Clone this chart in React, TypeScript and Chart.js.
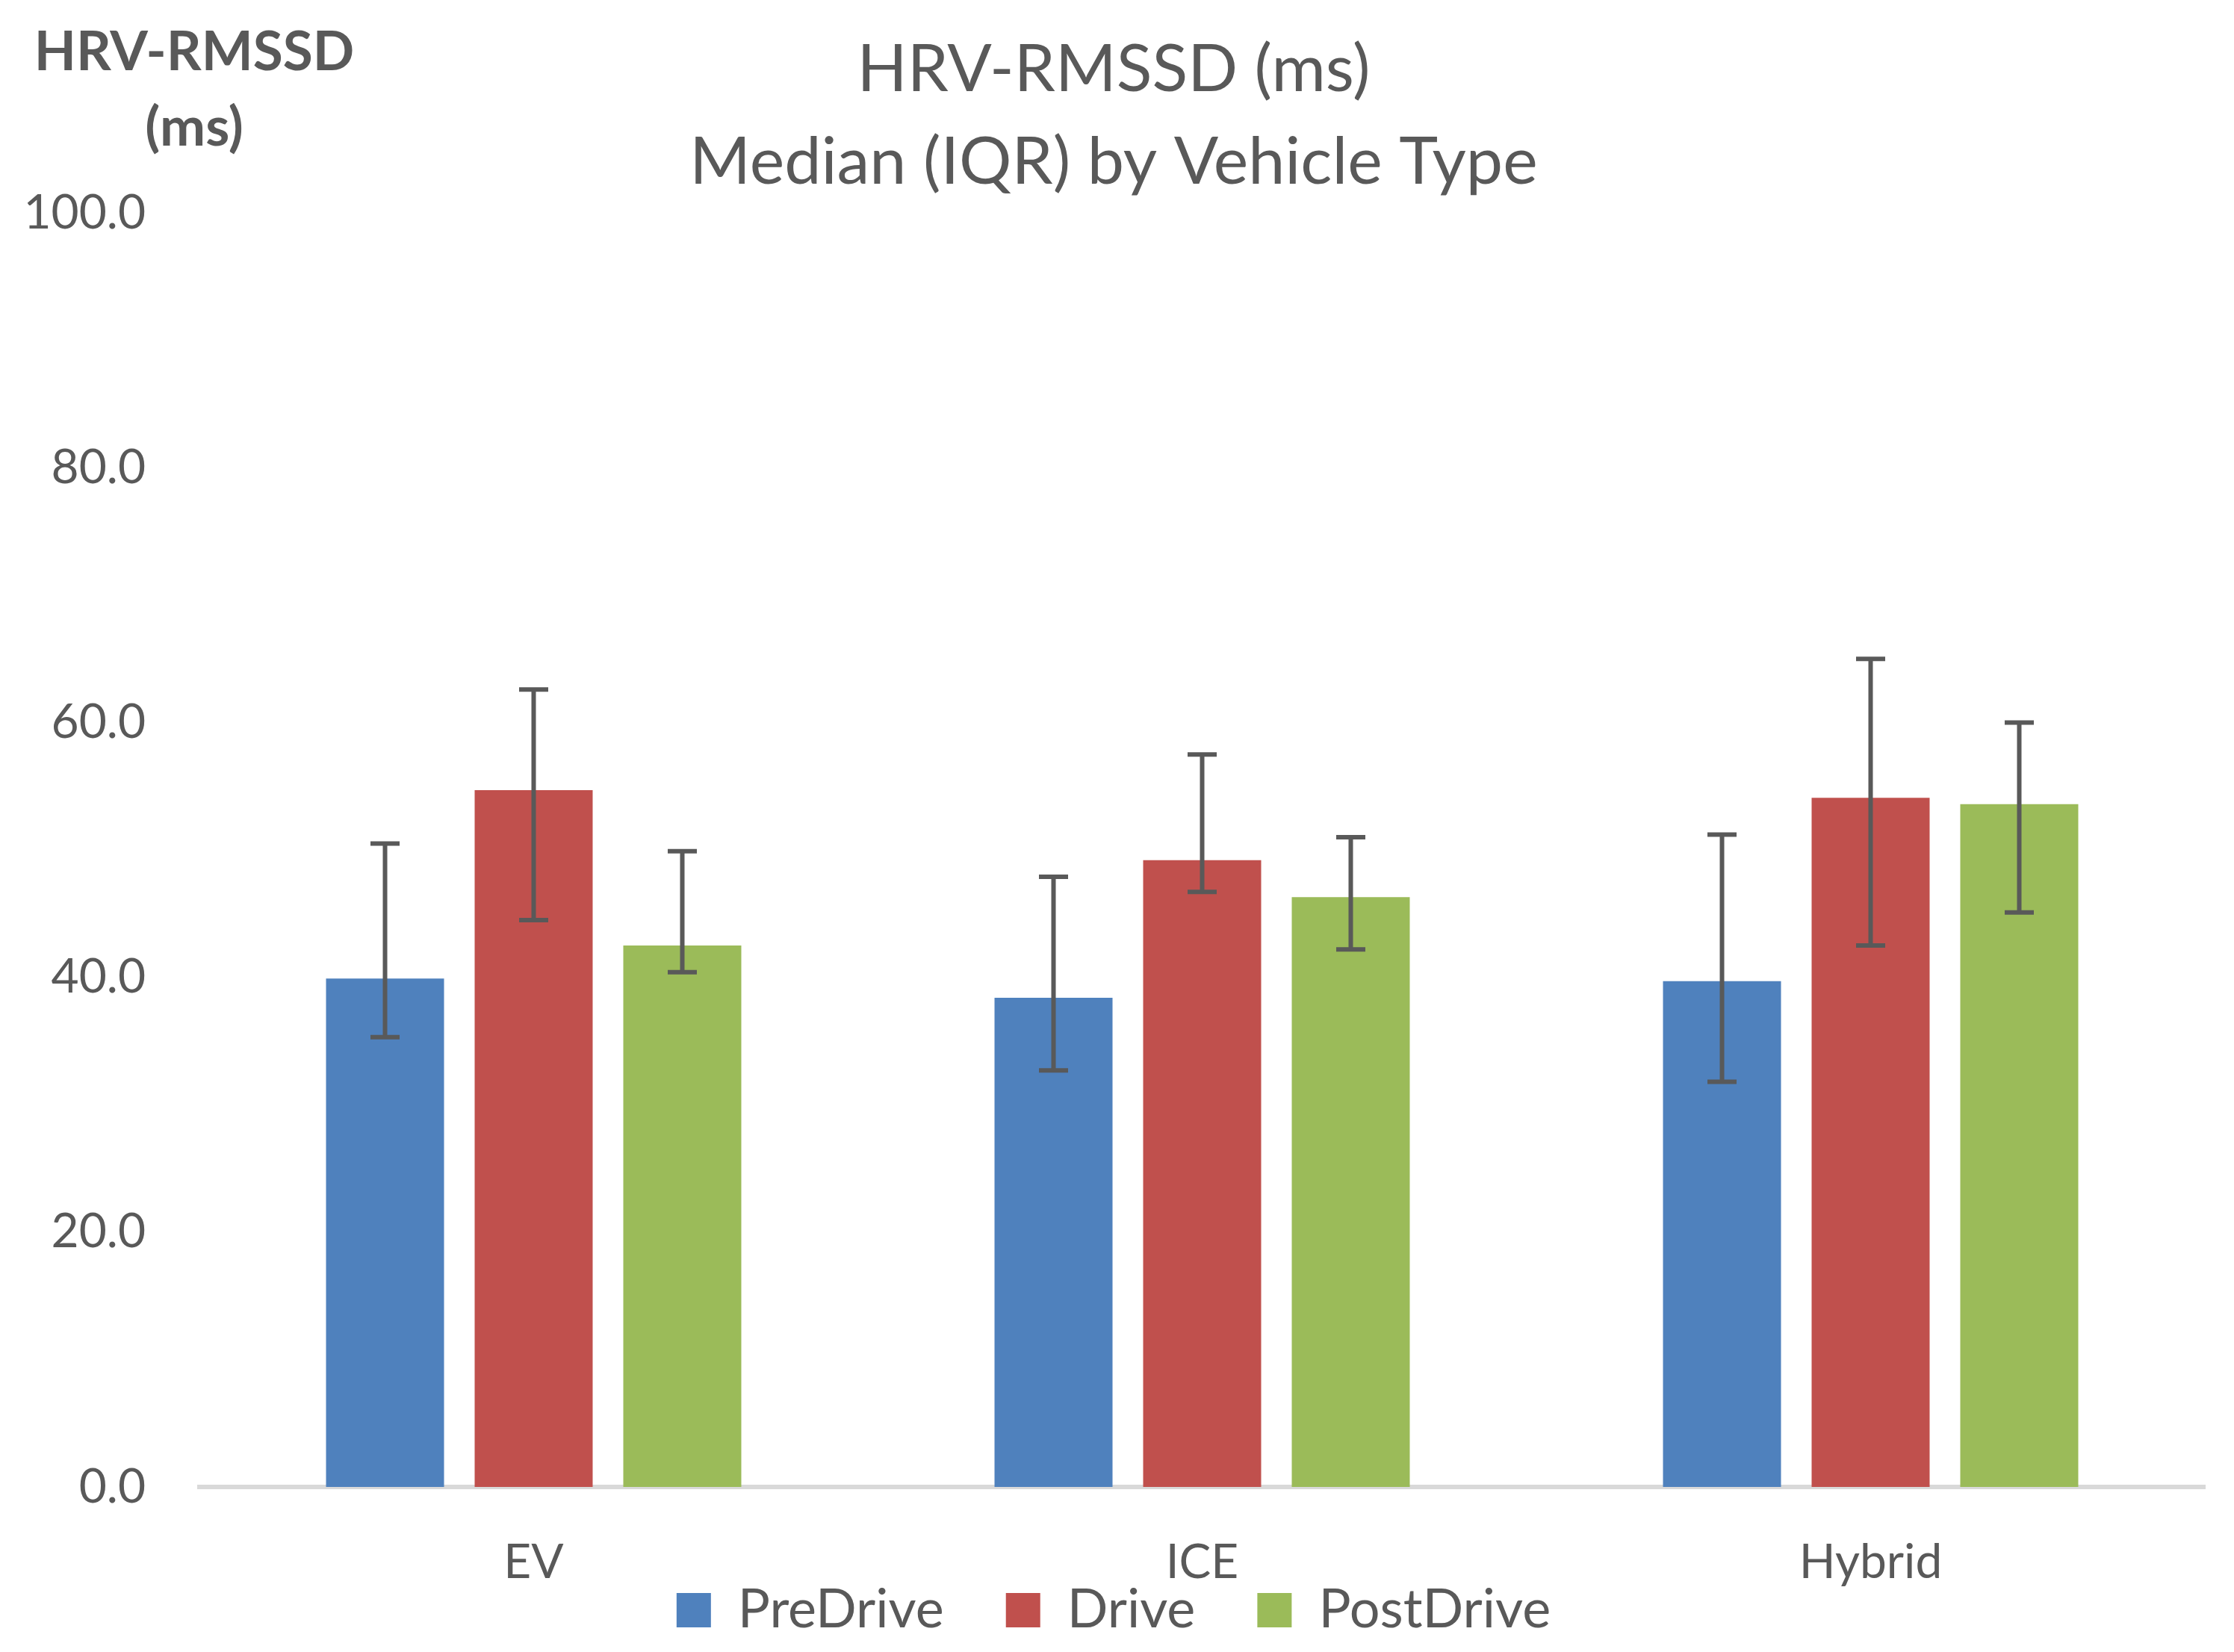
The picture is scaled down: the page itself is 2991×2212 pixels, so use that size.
import React, { useEffect, useRef } from 'react';
import { Chart, registerables } from 'chart.js';

Chart.register(...registerables);

const categories = ['EV', 'ICE', 'Hybrid'];
const seriesNames = ['PreDrive', 'Drive', 'PostDrive'];
const seriesColors = ['#4F81BD', '#C0504D', '#9BBB59'];

const preDrive = [39.9, 38.4, 39.7];
const preDriveQ1 = [35.3, 32.7, 31.8];
const preDriveQ3 = [50.5, 47.9, 51.2];

const drive = [54.7, 49.2, 54.1];
const driveQ1 = [44.5, 46.7, 42.5];
const driveQ3 = [62.6, 57.5, 65.0];

const postDrive = [42.5, 46.3, 53.6];
const postDriveQ1 = [40.4, 42.2, 45.1];
const postDriveQ3 = [49.9, 51.0, 60.0];

const yTicks = [0, 20, 40, 60, 80, 100];
const titleLines = ['HRV-RMSSD (ms)', 'Median (IQR) by Vehicle Type'];
const yTitleLines = ['HRV-RMSSD', '(ms)'];

const TEXT = '#595959';
const FONT = 'Lato';

const errorBarPlugin = {
  id: 'iqrErrorBars',
  afterDatasetsDraw(chart: any) {
    const ctx = chart.ctx;
    const y = chart.scales.y;
    chart.data.datasets.forEach((ds: any, i: number) => {
      const meta = chart.getDatasetMeta(i);
      if (meta.hidden) return;
      meta.data.forEach((bar: any, j: number) => {
        const lo = y.getPixelForValue(ds.q1[j]);
        const hi = y.getPixelForValue(ds.q3[j]);
        const half = 19.5;
        ctx.save();
        ctx.strokeStyle = '#595959';
        ctx.lineWidth = 6;
        ctx.lineCap = 'butt';
        ctx.beginPath();
        ctx.moveTo(bar.x, hi);
        ctx.lineTo(bar.x, lo);
        ctx.moveTo(bar.x - half, hi);
        ctx.lineTo(bar.x + half, hi);
        ctx.moveTo(bar.x - half, lo);
        ctx.lineTo(bar.x + half, lo);
        ctx.stroke();
        ctx.restore();
      });
    });
  },
};

const yTitlePlugin = {
  id: 'yTopTitle',
  afterDraw(chart: any) {
    const ctx = chart.ctx;
    ctx.save();
    ctx.fillStyle = TEXT;
    ctx.font = `bold 73px ${FONT}`;
    ctx.textAlign = 'center';
    ctx.textBaseline = 'alphabetic';
    ctx.fillText(yTitleLines[0], 260, 94);
    ctx.fillText(yTitleLines[1], 260, 195);
    ctx.restore();
  },
};

export default function App() {
  const ref = useRef<HTMLCanvasElement | null>(null);

  useEffect(() => {
    if (!ref.current) return;
    const values = [preDrive, drive, postDrive];
    const q1s = [preDriveQ1, driveQ1, postDriveQ1];
    const q3s = [preDriveQ3, driveQ3, postDriveQ3];
    const chart = new Chart(ref.current, {
      type: 'bar',
      data: {
        labels: categories,
        datasets: seriesNames.map((name, i) => ({
          label: name,
          data: values[i],
          q1: q1s[i],
          q3: q3s[i],
          backgroundColor: seriesColors[i],
          borderWidth: 0,
          categoryPercentage: 0.667,
          barPercentage: 0.794,
        })) as any,
      },
      options: {
        responsive: false,
        devicePixelRatio: 1,
        animation: false,
        color: TEXT,
        font: { family: FONT },
        layout: { padding: { left: 30, right: 39, top: 0, bottom: 10 } },
        plugins: {
          title: {
            display: true,
            text: titleLines,
            color: TEXT,
            font: { family: FONT, size: 88, weight: 'normal', lineHeight: 1.41 },
            padding: { top: 32, bottom: 5 },
          },
          legend: {
            display: true,
            position: 'bottom',
            labels: {
              color: TEXT,
              font: { family: FONT, size: 72 },
              boxWidth: 46,
              boxHeight: 46,
              padding: 83,
            },
          },
          tooltip: { enabled: false },
        },
        scales: {
          x: {
            grid: { display: false, drawTicks: false },
            border: { display: true, color: '#D9D9D9', width: 6 },
            ticks: {
              color: TEXT,
              font: { family: FONT, size: 64, lineHeight: 1.2 },
              mirror: true,
              padding: -140,
            },
            afterFit: (scale: any) => {
              scale.height = 46;
            },
          },
          y: {
            min: 0,
            max: 100,
            grid: { display: false, drawTicks: false },
            border: { display: false },
            afterBuildTicks: (scale: any) => {
              scale.ticks = yTicks.map((v) => ({ value: v }));
            },
            ticks: {
              color: TEXT,
              font: { family: FONT, size: 64 },
              padding: 72,
              callback: (v: any) => Number(v).toFixed(1),
            },
            afterFit: (scale: any) => {
              scale.width = 237;
            },
          },
        },
      },
      plugins: [errorBarPlugin, yTitlePlugin],
    });
    return () => chart.destroy();
  }, []);

  return (
    <div style={{ position: 'fixed', left: 0, top: 0, width: 2991, height: 2212, background: '#fff' }}>
      <canvas ref={ref} width={2991} height={2212} style={{ display: 'block', width: 2991, height: 2212 }} />
    </div>
  );
}
